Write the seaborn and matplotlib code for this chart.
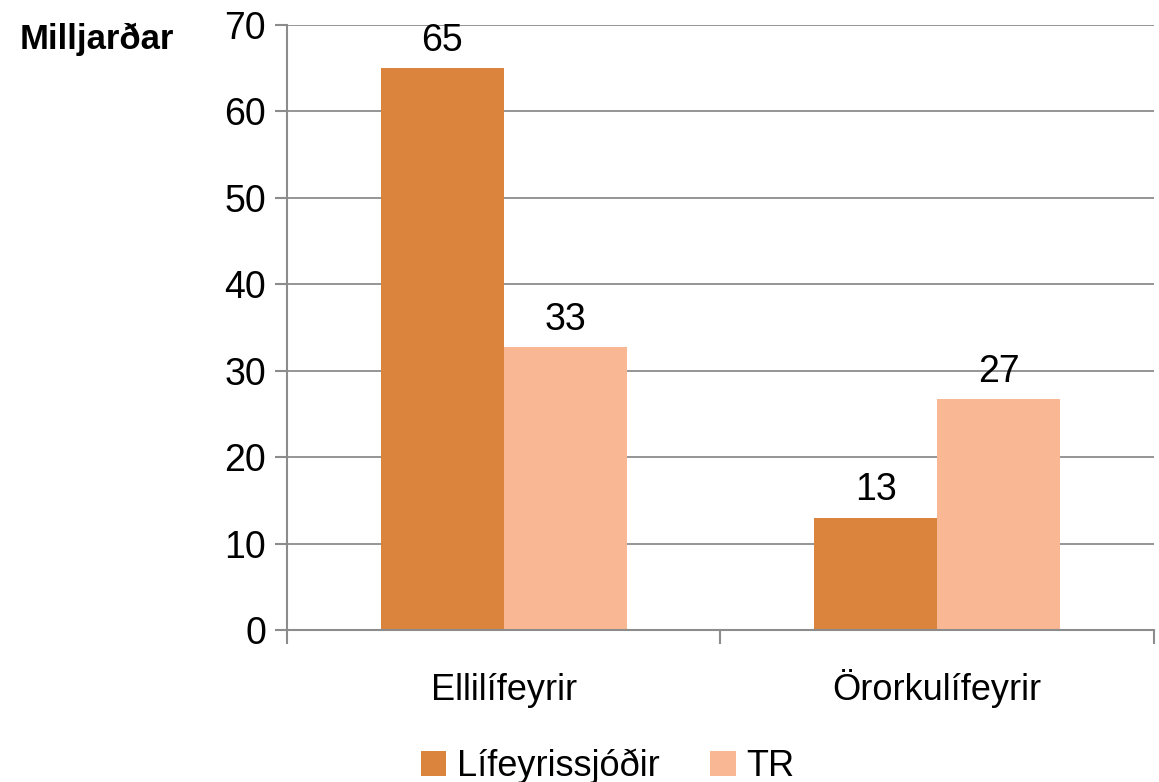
import pandas as pd
import matplotlib.pyplot as plt
import seaborn as sns

# Data
categories = ["Ellilífeyrir", "Örorkulífeyrir"]
series = ["Lífeyrissjóðir", "TR"]
lifeyrissjodir = [65.0, 13.0]
tr = [32.7, 26.7]
colors = ["#DB843D", "#F9B793"]

df = pd.DataFrame({
    "flokkur": categories * 2,
    "hópur": [series[0]] * 2 + [series[1]] * 2,
    "gildi": lifeyrissjodir + tr,
})

sns.set_style("white")
plt.rcParams["font.family"] = ["Liberation Sans", "DejaVu Sans"]
plt.rcParams["text.color"] = "black"
plt.rcParams["xtick.color"] = "black"
plt.rcParams["ytick.color"] = "black"

fig = plt.figure(figsize=(11.59, 7.82), dpi=100)
ax = fig.add_axes([0.2476, 0.1944, 0.7481, 0.7736])

sns.barplot(data=df, x="flokkur", y="gildi", hue="hópur", order=categories,
            hue_order=series, palette=colors, width=0.567, gap=0,
            saturation=1, errorbar=None, linewidth=0, ax=ax)

# data labels, rounded like the original
for cont in ax.containers:
    ax.bar_label(cont, labels=[f"{v:.0f}" for v in cont.datavalues],
                 fontsize=27, padding=7)

ax.set_xlim(-0.5, 1.5)
ax.set_ylim(0, 70)
ax.set_yticks(range(0, 71, 10))
ax.yaxis.grid(True, color="#8c8c8c", linewidth=1.3)
ax.set_axisbelow(True)

ax.set_xticks([-0.5, 0.5, 1.5], minor=True)
ax.tick_params(axis="x", which="major", bottom=False, labelsize=26, pad=47)
ax.tick_params(axis="x", which="minor", bottom=True, length=10, width=1.5,
               color="#8c8c8c")
ax.tick_params(axis="y", left=True, length=9, width=1.5, color="#8c8c8c",
               labelcolor="black", labelsize=27, pad=6)
for lbl in ax.get_xticklabels():
    lbl.set_verticalalignment("baseline")

for side in ["top", "right"]:
    ax.spines[side].set_visible(False)
for side in ["left", "bottom"]:
    ax.spines[side].set_color("#8c8c8c")
    ax.spines[side].set_linewidth(1.5)

ax.set_xlabel("")
ax.set_ylabel("")

fig.text(0.017, 0.95, "Milljarðar", fontsize=25, fontweight="bold",
         ha="left", va="center")

ax.legend(loc="center", bbox_to_anchor=(0.37, -0.225), ncol=2, frameon=False,
          fontsize=26, handlelength=0.7, handleheight=0.7,
          handletextpad=0.3, columnspacing=1.4)

plt.savefig("out.png", dpi=100)
